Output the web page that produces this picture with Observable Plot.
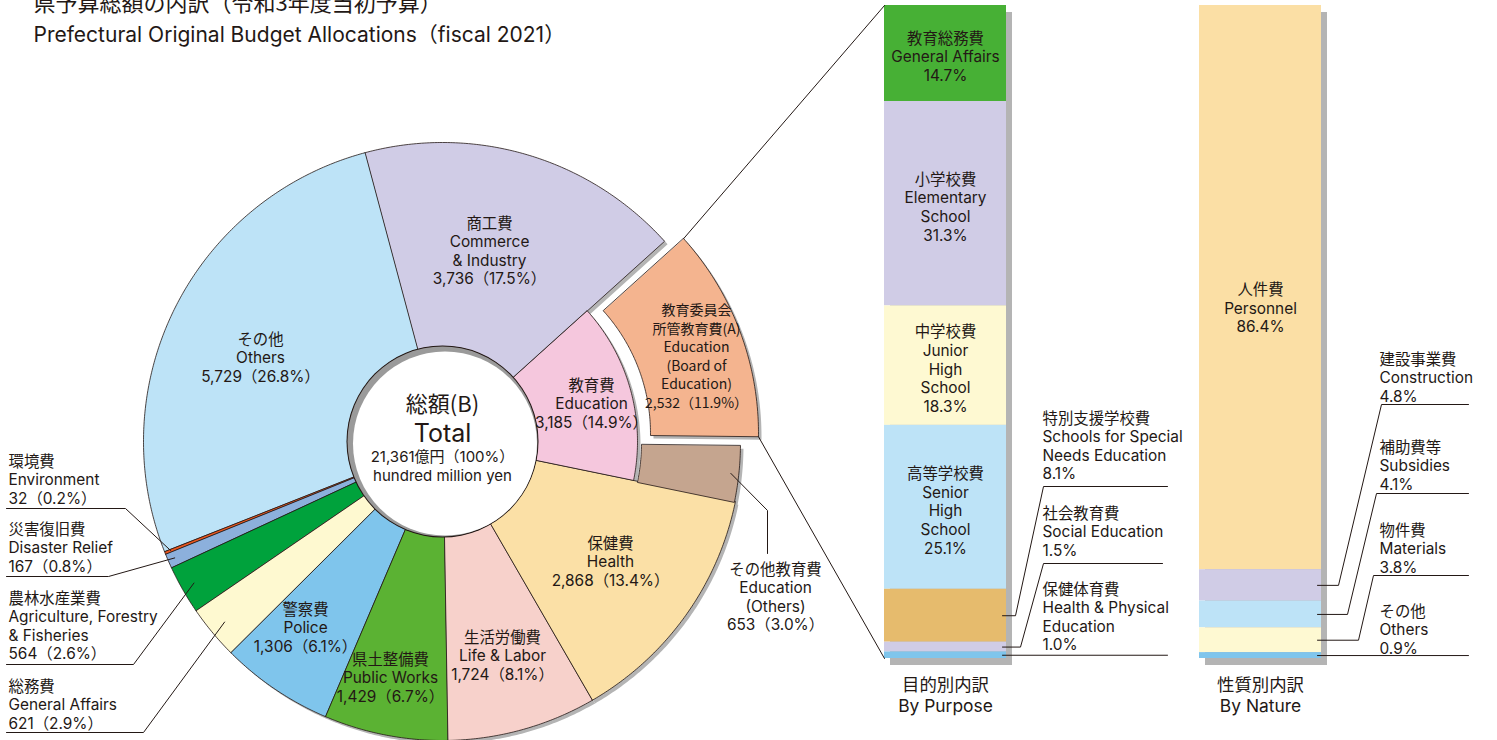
<!DOCTYPE html>
<html>
<head>
<meta charset="utf-8">
<script src="https://cdn.jsdelivr.net/npm/d3@7"></script>
<script src="https://cdn.jsdelivr.net/npm/@observablehq/plot@0.6"></script>
<style>
  html, body { margin: 0; padding: 0; background: #fff; }
  #chart svg { display: block; }
</style>
</head>
<body>
<div id="chart"></div>
<script>
// ---------------- DATA ----------------
const total = 21361;
const totalPercent = 100;

// Donut slices (clockwise from Commerce)
const sliceKeys = ["commerce", "education", "health", "life", "publicWorks", "police", "generalAffairs", "agriculture", "disaster", "environment", "others"];
const sliceValues = [3736, 3185, 2868, 1724, 1429, 1306, 621, 564, 167, 32, 5729];
const slicePercents = [17.5, 14.9, 13.4, 8.1, 6.7, 6.1, 2.9, 2.6, 0.8, 0.2, 26.8];
const sliceJa = ["商工費", "教育費", "保健費", "生活労働費", "県土整備費", "警察費", "総務費", "農林水産業費", "災害復旧費", "環境費", "その他"];
const sliceEn = ["Commerce\n& Industry", "Education", "Health", "Life & Labor", "Public Works", "Police", "General Affairs", "Agriculture, Forestry\n& Fisheries", "Disaster Relief", "Environment", "Others"];

// Education split (outer exploded pieces)
const eduKeys = ["board", "otherEdu"];
const eduValues = [2532, 653];
const eduPercents = [11.9, 3.0];
const eduJa = ["教育委員会\n所管教育費(A)", "その他教育費"];
const eduEn = ["Education\n(Board of\nEducation)", "Education\n(Others)"];

// By purpose (breakdown of A)
const purposeJa = ["教育総務費", "小学校費", "中学校費", "高等学校費", "特別支援学校費", "社会教育費", "保健体育費"];
const purposeEn = ["General Affairs", "Elementary\nSchool", "Junior\nHigh\nSchool", "Senior\nHigh\nSchool", "Schools for Special\nNeeds Education", "Social Education", "Health & Physical\nEducation"];
const purposeShares = [14.7, 31.3, 18.3, 25.1, 8.1, 1.5, 1.0];

// By nature
const natureJa = ["人件費", "建設事業費", "補助費等", "物件費", "その他"];
const natureEn = ["Personnel", "Construction", "Subsidies", "Materials", "Others"];
const natureShares = [86.4, 4.8, 4.1, 3.8, 0.9];

// Text
const titleJa = "県予算総額の内訳（令和3年度当初予算）";
const titleEn = "Prefectural Original Budget Allocations（fiscal 2021）";
const centerJa = "総額(B)";
const centerEn = "Total";
const centerUnit = "hundred million yen";
const purposeTitle = "目的別内訳\nBy Purpose";
const natureTitle = "性質別内訳\nBy Nature";

// ---------------- STYLES ----------------
const sliceColors = ["#d0cce6", "#f5c7dd", "#fbe0a6", "#f7d1cb", "#5bb233", "#7fc5ec", "#fef9d0", "#00a23c", "#8cb0dc", "#e9561f", "#bde3f7"];
const eduColors = ["#f4b48f", "#c5a58f"];
const purposeColors = ["#47b035", "#d0cce6", "#fef9d2", "#bde3f7", "#e6bb6d", "#d0cce6", "#7fc5ec"];
const natureColors = ["#fbdfa5", "#d0cce6", "#bde3f7", "#fef9d2", "#7fc5ec"];
const INK = "#231815";
const SHADOW = "#b4b4b4";
const FONT = "Inter,'Noto Sans CJK JP',sans-serif";
const FONT_CJK = "'Noto Sans CJK JP',Inter,sans-serif";
const FS = 15.4, LH = 1.21;

// ---------------- LAYOUT ----------------
const W = 1497, H = 740;
const cx = 442, cy = 441, R = 299, r0 = 95, rEdu = 195;
const startAngle = -15;
const boardGeom = {rIn: 183, rOut: 291, dx: 25, dy: -8};
const otherEduGeom = {rIn: 198, rOut: 297, dx: 1, dy: 1};
const barTop = 5, barBottom = 658;
const purposeX = [884, 1006], natureX = [1199, 1321];

// label block centres for donut slices
const sliceLabelPos = {
  commerce: [489, 250], education: [591, 403], health: [610, 561], life: [502, 655],
  publicWorks: [390, 677], police: [305, 627], others: [260, 357]
};
const leftLabelPos = {
  environment: {y: 479, line: 508, elbow: 125, r: 293},
  disaster: {y: 547, line: 576, elbow: 108, r: 292},
  agriculture: {y: 625, line: 664, elbow: 133, r: 286},
  generalAffairs: {y: 704, line: 732, elbow: 143, r: 283}
};

// ---------------- GEOMETRY ----------------
const rad = a => a * Math.PI / 180;
const pt = (a, r, dx = 0, dy = 0) => [cx + r * Math.sin(rad(a)) + dx, cy - r * Math.cos(rad(a)) + dy];
function sector(key, fill, a0, a1, rIn, rOut, dx = 0, dy = 0) {
  const n = Math.max(2, Math.ceil(Math.abs(a1 - a0) / 0.5));
  const out = [];
  for (let i = 0; i <= n; i++) { const [x, y] = pt(a0 + (a1 - a0) * i / n, rOut, dx, dy); out.push({key, fill, x, y}); }
  for (let i = n; i >= 0; i--) { const [x, y] = pt(a0 + (a1 - a0) * i / n, rIn, dx, dy); out.push({key, fill, x, y}); }
  return out;
}
const fmt = d3.format(",");
const valueText = (v, p) => `${fmt(v)}（${p.toFixed(1)}%）`;

// angles
let cum = 0;
const slices = sliceKeys.map((key, i) => {
  const a0 = startAngle + 360 * cum / total;
  cum += sliceValues[i];
  const a1 = startAngle + 360 * cum / total;
  return {key, i, a0, a1, mid: (a0 + a1) / 2};
});
const eduSlice = slices[1];
const boardA1 = eduSlice.a0 + 360 * eduValues[0] / total;
const boardA = [eduSlice.a0, boardA1];
const otherA = [boardA1, eduSlice.a1];

let polys = [];
let shadows = [];
slices.forEach(s => {
  const rOut = s.key === "education" ? rEdu : R;
  polys.push(...sector(s.key, sliceColors[s.i], s.a0, s.a1, r0, rOut));
  shadows.push(...sector(s.key + "_s", SHADOW, s.a0, s.a1, r0, rOut, 3, 3));
});
const bg = boardGeom, og = otherEduGeom;
polys.push(...sector("board", eduColors[0], boardA[0], boardA[1], bg.rIn, bg.rOut, bg.dx, bg.dy));
shadows.push(...sector("board_s", SHADOW, boardA[0], boardA[1], bg.rIn, bg.rOut, bg.dx + 3, bg.dy + 3));
polys.push(...sector("otherEdu", eduColors[1], otherA[0], otherA[1], og.rIn, og.rOut, og.dx, og.dy));
shadows.push(...sector("otherEdu_s", SHADOW, otherA[0], otherA[1], og.rIn, og.rOut, og.dx + 3, og.dy + 3));

// donut labels
const donutLabels = slices.filter(s => sliceLabelPos[s.key]).map(s => ({
  x: sliceLabelPos[s.key][0], y: sliceLabelPos[s.key][1],
  text: `${sliceJa[s.i]}\n${sliceEn[s.i]}\n${valueText(sliceValues[s.i], slicePercents[s.i])}`
}));
const boardLabel = [{x: 696, y: 355, text: `${eduJa[0]}\n${eduEn[0]}\n${valueText(eduValues[0], eduPercents[0])}`}];
const otherEduLabel = [{x: 775, y: 596, text: `${eduJa[1]}\n${eduEn[1]}\n${valueText(eduValues[1], eduPercents[1])}`}];

// left labels + leaders
const leftLabels = [], leaders = [];
slices.filter(s => leftLabelPos[s.key]).forEach(s => {
  const L = leftLabelPos[s.key];
  leftLabels.push({x: 8, y: L.y, text: `${sliceJa[s.i]}\n${sliceEn[s.i]}\n${valueText(sliceValues[s.i], slicePercents[s.i])}`});
  const [ex, ey] = pt(s.mid, L.r);
  leaders.push({k: s.key, x: 6, y: L.line}, {k: s.key, x: L.elbow, y: L.line}, {k: s.key, x: ex, y: ey});
});
// other education leader
{
  const [ex, ey] = pt((otherA[0] + otherA[1]) / 2, 289, og.dx, og.dy);
  leaders.push({k: "oe", x: ex, y: ey}, {k: "oe", x: 767, y: 510}, {k: "oe", x: 767, y: 553});
}
// board -> purpose bar connectors
{
  const [tx, ty] = pt(boardA[0], bg.rOut, bg.dx, bg.dy);
  const [bx, by] = pt(boardA[1], bg.rOut, bg.dx, bg.dy);
  leaders.push({k: "c1", x: tx, y: ty}, {k: "c1", x: purposeX[0], y: barTop});
  leaders.push({k: "c2", x: bx, y: by}, {k: "c2", x: purposeX[0], y: barBottom});
}

// bars
const barY = p => barTop + (barBottom - barTop) * p / 100;
function stack(shares, colors, xr, bar) {
  let c = 0;
  return shares.map((s, i) => {
    const row = {bar, i, x1: xr[0], x2: xr[1], y1: barY(c), y2: barY(c + s), mid: barY(c + s / 2), fill: colors[i]};
    c += s;
    return row;
  });
}
const purposeRows = stack(purposeShares, purposeColors, purposeX, "purpose");
const natureRows = stack(natureShares, natureColors, natureX, "nature");
const barShadows = [purposeX, natureX].map(xr => ({x1: xr[0] + 6, x2: xr[1] + 6, y1: barTop + 7, y2: barBottom + 7}));

// labels inside bars
const inBarLabels = [];
purposeRows.slice(0, 4).forEach(r => inBarLabels.push({x: (r.x1 + r.x2) / 2, y: r.mid + 3, text: `${purposeJa[r.i]}\n${purposeEn[r.i]}\n${purposeShares[r.i].toFixed(1)}%`}));
inBarLabels.push({x: (natureX[0] + natureX[1]) / 2, y: natureRows[0].mid + 20, text: `${natureJa[0]}\n${natureEn[0]}\n${natureShares[0].toFixed(1)}%`});

// outside bar labels
const purposeSide = [
  {i: 4, y: 445, top: 486, end: 1167, elbowX: 1015, textX: 1042, topX: 1043},
  {i: 5, y: 531, top: 563, end: 1162, elbowX: 1020, textX: 1042, topX: 1043},
  {i: 6, y: 616, top: null, end: 1167, textX: 1042}
];
const natureSide = [
  {i: 1, y: 377, top: 404, end: 1468, elbowX: 1338, textX: 1379, topX: 1381},
  {i: 2, y: 465, top: 493, end: 1468, elbowX: 1347, textX: 1379, topX: 1376},
  {i: 3, y: 548, top: 575, end: 1468, elbowX: 1358, textX: 1379, topX: 1373},
  {i: 4, y: 629, top: null, end: 1468, textX: 1379}
];
const purposeSideLabels = [], natureSideLabels = [];
purposeSide.forEach(s => {
  const r = purposeRows[s.i];
  purposeSideLabels.push({x: s.textX, y: s.y, text: `${purposeJa[s.i]}\n${purposeEn[s.i]}\n${purposeShares[s.i].toFixed(1)}%`});
  const k = "p" + s.i;
  if (s.top == null) leaders.push({k, x: r.x2 - 4, y: r.mid}, {k, x: s.end, y: r.mid});
  else leaders.push({k, x: r.x2 - 4, y: r.mid}, {k, x: s.elbowX, y: r.mid}, {k, x: s.topX, y: s.top}, {k, x: s.end, y: s.top});
});
natureSide.forEach(s => {
  const r = natureRows[s.i];
  natureSideLabels.push({x: s.textX, y: s.y, text: `${natureJa[s.i]}\n${natureEn[s.i]}\n${natureShares[s.i].toFixed(1)}%`});
  const k = "n" + s.i;
  if (s.top == null) leaders.push({k, x: r.x2 - 4, y: r.mid}, {k, x: s.end, y: r.mid});
  else leaders.push({k, x: r.x2 - 4, y: r.mid}, {k, x: s.elbowX, y: r.mid}, {k, x: s.topX, y: s.top}, {k, x: s.end, y: s.top});
});

const centerDot = [{x: cx, y: cy}];

// ---------------- PLOT ----------------
const chart = Plot.plot({
  width: W, height: H,
  margin: 0,
  x: {domain: [0, W], range: [0, W], axis: null},
  y: {domain: [0, H], range: [0, H], axis: null},
  color: {type: "identity"},
  style: {background: "#fff", fontFamily: FONT, color: INK},
  marks: [
    // donut shadows + slices
    Plot.line(shadows, {x: "x", y: "y", z: "key", fill: "fill", stroke: "none", curve: "linear-closed"}),
    Plot.line(polys, {x: "x", y: "y", z: "key", fill: "fill", stroke: INK, strokeWidth: 0.8, curve: "linear-closed"}),
    // centre hole
    Plot.dot(centerDot, {x: "x", y: "y", r: r0 + 1, fill: INK, stroke: "none"}),
    Plot.dot(centerDot, {x: "x", y: "y", r: r0, fill: "#9a9a9a", stroke: "none"}),
    Plot.dot(centerDot, {x: d => d.x + 2.5, y: d => d.y + 2, r: r0 - 3, fill: "#fff", stroke: "none"}),
    // bars
    Plot.rect(barShadows, {x1: "x1", x2: "x2", y1: "y1", y2: "y2", fill: SHADOW}),
    Plot.rect(purposeRows, {x1: "x1", x2: "x2", y1: "y1", y2: "y2", fill: "fill"}),
    Plot.rect(natureRows, {x1: "x1", x2: "x2", y1: "y1", y2: "y2", fill: "fill"}),
    // leaders
    Plot.line(leaders, {x: "x", y: "y", z: "k", stroke: INK, strokeWidth: 1, curve: "linear"}),
    // titles
    Plot.text([titleJa], {x: 33, y: 3, text: d => d, textAnchor: "start", fontSize: 22, fill: INK, fontFamily: FONT_CJK}),
    Plot.text([titleEn], {x: 33, y: 35, text: d => d, textAnchor: "start", fontSize: 21, fill: INK, fontFamily: FONT}),
    // centre text
    Plot.text([centerJa], {x: cx, y: 404, text: d => d, fontSize: 22, fill: INK, fontFamily: FONT_CJK}),
    Plot.text([centerEn], {x: cx, y: 433, text: d => d, fontSize: 25, fill: INK, fontFamily: FONT}),
    Plot.text([`${fmt(total)}億円（${totalPercent}%）`], {x: cx, y: 457, text: d => d, fontSize: 15, fill: INK, fontFamily: FONT}),
    Plot.text([centerUnit], {x: cx, y: 476, text: d => d, fontSize: 15, fill: INK, fontFamily: FONT}),
    // slice labels
    Plot.text(donutLabels, {x: "x", y: "y", text: "text", fontSize: FS, lineHeight: LH, fill: INK, fontFamily: FONT}),
    Plot.text(boardLabel, {x: "x", y: "y", text: "text", fontSize: 14, lineHeight: 1.33, fill: INK, fontFamily: FONT_CJK}),
    Plot.text(otherEduLabel, {x: "x", y: "y", text: "text", fontSize: FS, lineHeight: LH, fill: INK, fontFamily: FONT}),
    Plot.text(leftLabels, {x: "x", y: "y", text: "text", textAnchor: "start", fontSize: FS, lineHeight: LH, fill: INK, fontFamily: FONT}),
    // bar labels
    Plot.text(inBarLabels, {x: "x", y: "y", text: "text", fontSize: FS, lineHeight: LH, fill: INK, fontFamily: FONT}),
    Plot.text(purposeSideLabels, {x: "x", y: "y", text: "text", textAnchor: "start", fontSize: FS, lineHeight: LH, fill: INK, fontFamily: FONT}),
    Plot.text(natureSideLabels, {x: "x", y: "y", text: "text", textAnchor: "start", fontSize: FS, lineHeight: LH, fill: INK, fontFamily: FONT}),
    Plot.text([purposeTitle], {x: (purposeX[0] + purposeX[1]) / 2, y: 694, text: d => d, fontSize: 17.4, lineHeight: 1.21, fill: INK, fontFamily: FONT}),
    Plot.text([natureTitle], {x: (natureX[0] + natureX[1]) / 2, y: 694, text: d => d, fontSize: 17.4, lineHeight: 1.21, fill: INK, fontFamily: FONT})
  ]
});
document.getElementById("chart").appendChild(chart);
</script>
</body>
</html>
